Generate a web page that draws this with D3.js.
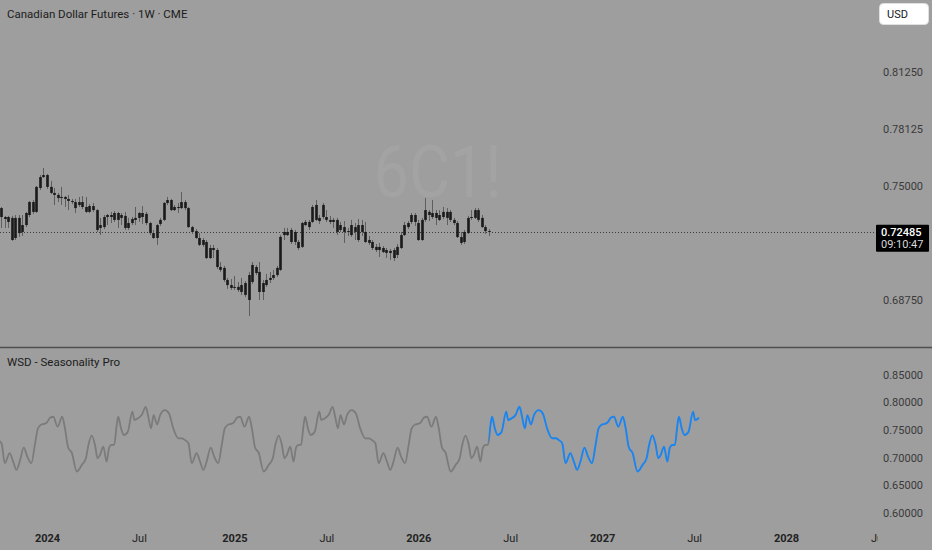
<!DOCTYPE html>
<html><head><meta charset="utf-8">
<script src="https://cdn.jsdelivr.net/npm/d3@7"></script>
<style>html,body{margin:0;padding:0;background:#9e9e9e;overflow:hidden}svg{display:block}</style>
</head><body><svg id="c" width="932" height="550"></svg>
<script>
// ---- data ----
const chartTitle = "Canadian Dollar Futures \u00b7 1W \u00b7 CME";
const indicatorTitle = "WSD - Seasonality Pro";
const symbolWatermark = "6C1!";
const currency = "USD";
const startWeek = "2023-10-02";
const opens = [0.7379,0.7330,0.7330,0.7325,0.7215,0.7325,0.7248,0.7286,0.7341,0.7412,
0.7358,0.7489,0.7549,0.7560,0.7495,0.7462,0.7451,0.7434,0.7440,0.7429,
0.7418,0.7412,0.7396,0.7412,0.7385,0.7358,0.7390,0.7368,0.7270,0.7275,
0.7330,0.7341,0.7314,0.7352,0.7325,0.7336,0.7270,0.7297,0.7314,0.7325,
0.7352,0.7347,0.7297,0.7242,0.7215,0.7292,0.7314,0.7407,0.7423,0.7368,
0.7385,0.7379,0.7412,0.7379,0.7275,0.7253,0.7215,0.7177,0.7193,0.7105,
0.7160,0.7149,0.7056,0.7051,0.6985,0.6957,0.6941,0.6947,0.6919,0.6968,
0.6875,0.6974,0.7056,0.7029,0.6919,0.6957,0.6985,0.6996,0.7012,0.7040,
0.7231,0.7248,0.7259,0.7193,0.7193,0.7166,0.7286,0.7303,0.7303,0.7396,
0.7308,0.7330,0.7330,0.7314,0.7303,0.7314,0.7259,0.7275,0.7248,0.7286,
0.7248,0.7286,0.7248,0.7248,0.7204,0.7193,0.7166,0.7149,0.7160,0.7149,
0.7133,0.7149,0.7122,0.7160,0.7231,0.7275,0.7303,0.7341,0.7297,0.7204,
0.7314,0.7358,0.7330,0.7352,0.7341,0.7330,0.7358,0.7314,0.7314,0.7297,
0.7220,0.7193,0.7242,0.7325,0.7325,0.7368,0.7325,0.7275,0.7253];
const highs = [0.7385,0.7336,0.7336,0.7336,0.7341,0.7341,0.7341,0.7358,0.7418,0.7423,
0.7500,0.7560,0.7599,0.7566,0.7528,0.7489,0.7462,0.7495,0.7445,0.7451,
0.7429,0.7429,0.7440,0.7445,0.7440,0.7401,0.7407,0.7374,0.7325,0.7341,
0.7347,0.7358,0.7363,0.7358,0.7352,0.7358,0.7325,0.7330,0.7385,0.7358,
0.7390,0.7358,0.7303,0.7259,0.7292,0.7325,0.7412,0.7440,0.7429,0.7396,
0.7407,0.7467,0.7423,0.7385,0.7281,0.7264,0.7242,0.7215,0.7204,0.7177,
0.7177,0.7160,0.7083,0.7062,0.6996,0.6990,0.7007,0.6974,0.6996,0.6979,
0.7029,0.7083,0.7067,0.7083,0.6985,0.7018,0.7029,0.7040,0.7062,0.7231,
0.7270,0.7270,0.7270,0.7259,0.7204,0.7303,0.7314,0.7314,0.7396,0.7423,
0.7341,0.7407,0.7368,0.7336,0.7325,0.7325,0.7303,0.7308,0.7270,0.7314,
0.7297,0.7319,0.7314,0.7303,0.7226,0.7204,0.7182,0.7188,0.7171,0.7160,
0.7155,0.7160,0.7182,0.7248,0.7303,0.7308,0.7352,0.7352,0.7314,0.7325,
0.7434,0.7368,0.7423,0.7368,0.7368,0.7385,0.7379,0.7368,0.7325,0.7308,
0.7248,0.7259,0.7336,0.7368,0.7379,0.7379,0.7341,0.7286,0.7264];
const lows = [0.7270,0.7270,0.7270,0.7199,0.7204,0.7221,0.7226,0.7275,0.7330,0.7347,
0.7352,0.7478,0.7544,0.7484,0.7456,0.7396,0.7412,0.7396,0.7385,0.7368,
0.7401,0.7352,0.7385,0.7374,0.7352,0.7352,0.7358,0.7248,0.7231,0.7264,
0.7286,0.7297,0.7303,0.7270,0.7286,0.7259,0.7259,0.7286,0.7286,0.7303,
0.7292,0.7286,0.7231,0.7210,0.7177,0.7281,0.7308,0.7396,0.7363,0.7363,
0.7352,0.7374,0.7368,0.7270,0.7237,0.7210,0.7171,0.7166,0.7100,0.7100,
0.7105,0.7045,0.7029,0.6974,0.6936,0.6930,0.6930,0.6919,0.6903,0.6892,
0.6787,0.6963,0.7012,0.6875,0.6875,0.6947,0.6968,0.6985,0.7001,0.7034,
0.7204,0.7226,0.7182,0.7177,0.7149,0.7160,0.7281,0.7259,0.7297,0.7308,
0.7292,0.7319,0.7303,0.7292,0.7270,0.7231,0.7248,0.7188,0.7226,0.7221,
0.7204,0.7193,0.7226,0.7188,0.7177,0.7149,0.7138,0.7111,0.7133,0.7105,
0.7094,0.7089,0.7105,0.7155,0.7226,0.7264,0.7292,0.7281,0.7199,0.7199,
0.7303,0.7308,0.7319,0.7286,0.7308,0.7319,0.7286,0.7303,0.7286,0.7215,
0.7177,0.7182,0.7237,0.7314,0.7319,0.7303,0.7270,0.7237,0.7226];
const closes = [0.7330,0.7319,0.7303,0.7204,0.7325,0.7242,0.7286,0.7352,0.7412,0.7358,
0.7495,0.7549,0.7560,0.7495,0.7462,0.7451,0.7434,0.7440,0.7429,0.7418,
0.7412,0.7379,0.7412,0.7385,0.7358,0.7390,0.7368,0.7259,0.7286,0.7330,
0.7341,0.7330,0.7352,0.7314,0.7341,0.7270,0.7297,0.7319,0.7325,0.7352,
0.7330,0.7297,0.7242,0.7215,0.7286,0.7314,0.7407,0.7423,0.7368,0.7385,
0.7379,0.7412,0.7379,0.7275,0.7248,0.7215,0.7177,0.7204,0.7105,0.7160,
0.7149,0.7056,0.7040,0.6985,0.6957,0.6941,0.6947,0.6930,0.6957,0.6903,
0.7012,0.7067,0.7023,0.6919,0.6968,0.6985,0.6996,0.7012,0.7051,0.7221,
0.7248,0.7231,0.7193,0.7248,0.7160,0.7297,0.7303,0.7275,0.7385,0.7314,
0.7325,0.7396,0.7314,0.7303,0.7314,0.7248,0.7286,0.7248,0.7253,0.7231,
0.7275,0.7204,0.7286,0.7193,0.7188,0.7160,0.7149,0.7166,0.7138,0.7133,
0.7144,0.7105,0.7166,0.7231,0.7286,0.7297,0.7341,0.7303,0.7204,0.7314,
0.7368,0.7341,0.7352,0.7325,0.7314,0.7358,0.7325,0.7358,0.7297,0.7220,
0.7188,0.7248,0.7325,0.7330,0.7368,0.7314,0.7275,0.7253,0.72485];
const lastPrice = 0.72485;
const countdown = "09:10:47";
const priceTicks = [0.6875, 0.75, 0.78125, 0.8125];
const seasonTicks = [0.60, 0.65, 0.70, 0.75, 0.80, 0.85];
const timeTickDates = ["2024-01-01","2024-07-01","2025-01-06","2025-07-07","2026-01-05","2026-07-06","2027-01-04","2027-07-05","2028-01-03","2028-07-03"];
const timeTickLabels = ["2024","Jul","2025","Jul","2026","Jul","2027","Jul","2028","Jul"];
// seasonal profile: day within cycle -> value
const profileDays = [0,6,12.5,21,30,35,42,49,59,69,77,82,88.5,95,100,105,111.5,118,123,128,133,138,141,146.5,152,160,169,173,179.5,187.5,195.5,200.5,206,211,218,224,233.5,241.5,250,260,267,273,280,286.5,296,303,309.5,316,324,331,339,346,352,359,364];
const profileValues = [0.764,0.772,0.774,0.756,0.774,0.756,0.718,0.709,0.675,0.687,0.699,0.723,0.740,0.723,0.699,0.705,0.720,0.693,0.718,0.723,0.723,0.759,0.774,0.753,0.741,0.747,0.783,0.768,0.771,0.777,0.792,0.774,0.753,0.777,0.760,0.777,0.786,0.780,0.753,0.735,0.735,0.732,0.726,0.690,0.708,0.693,0.678,0.693,0.718,0.702,0.690,0.723,0.753,0.760,0.761];
const cycleOrigin = "2024-01-01";
const cycleLength = 370;
const cycles = [-1, 0, 1, 2, 3];
const projectionEnd = "2027-07-15";

// ---- drawing ----
const W = 932, H = 550, plotRight = 875, mainBottom = 347;
const FONT = "Roboto, 'Liberation Sans', sans-serif";
const parse = d3.utcParse("%Y-%m-%d");
const svg = d3.select("#c");
svg.append("rect").attr("width", W).attr("height", H).attr("fill", "#9e9e9e");

const defs = svg.append("defs");
defs.append("clipPath").attr("id","clipMain").append("rect").attr("x",0).attr("y",0).attr("width",plotRight).attr("height",mainBottom);

const x = d3.scaleUtc().domain([parse("2024-01-01"), parse("2028-01-01")]).range([47, 785]);
const yP = d3.scaleLinear().domain([0.6875, 0.8125]).range([300, 72]);
const yS = d3.scaleLinear().domain([0.60, 0.85]).range([513, 374.7]);

const weeks = closes.map((_, i) => d3.utcDay.offset(parse(startWeek), 7 * i));
const lastDate = weeks[weeks.length - 1];
const xLast = x(lastDate);
const xEnd = x(parse(projectionEnd));

// watermark
svg.append("text").attr("x", 437.5).attr("y", 197).attr("text-anchor","middle")
  .attr("font-family", FONT).attr("font-size", 72).attr("fill", "#a3a3a3")
  .attr("textLength", 128).attr("lengthAdjust","spacingAndGlyphs")
  .text(symbolWatermark);

// title
svg.append("text").attr("x", 7).attr("y", 18).attr("font-family", FONT).attr("font-size", 11.5)
  .attr("fill", "#1c1c1c").text(chartTitle);

// last price dotted line
svg.append("line").attr("x1", 0).attr("x2", plotRight).attr("y1", Math.round(yP(lastPrice)) + 0.5).attr("y2", Math.round(yP(lastPrice)) + 0.5)
  .attr("stroke", "#3a3a3a").attr("stroke-width", 1).attr("stroke-dasharray", "1,2");

// candles
const cg = svg.append("g").attr("clip-path", "url(#clipMain)");
const idx = d3.range(closes.length);
cg.selectAll("line.wick").data(idx).join("line").attr("class","wick")
  .attr("x1", i => Math.round(x(weeks[i])) + 0.5).attr("x2", i => Math.round(x(weeks[i])) + 0.5)
  .attr("y1", i => yP(highs[i])).attr("y2", i => yP(lows[i]))
  .attr("stroke", "#5e5e5e").attr("stroke-width", 1);
cg.selectAll("rect.body").data(idx).join("rect").attr("class","body")
  .attr("x", i => Math.round(x(weeks[i])) + 0.5 - 1.3).attr("width", 2.6)
  .attr("y", i => yP(Math.max(opens[i], closes[i])))
  .attr("height", i => Math.max(1, Math.abs(yP(opens[i]) - yP(closes[i]))))
  .attr("fill", "#1a1a1a");

// pane separator
svg.append("line").attr("x1", 0).attr("x2", W).attr("y1", mainBottom + 0.5).attr("y2", mainBottom + 0.5)
  .attr("stroke", "#4f4f4f").attr("stroke-width", 1.5);

// price axis
const pAxis = svg.append("g").attr("transform", `translate(${plotRight},0)`)
  .call(d3.axisRight(yP).tickValues(priceTicks).tickFormat(d3.format(".5f")).tickSize(0).tickPadding(8));
pAxis.select(".domain").remove();
pAxis.selectAll("text").attr("font-family", FONT).attr("font-size", 11).attr("fill", "#3a3a3a");

// seasonal axis
const sAxis = svg.append("g").attr("transform", `translate(${plotRight},0)`)
  .call(d3.axisRight(yS).tickValues(seasonTicks).tickFormat(d3.format(".5f")).tickSize(0).tickPadding(8));
sAxis.select(".domain").remove();
sAxis.selectAll("text").attr("font-family", FONT).attr("font-size", 11).attr("fill", "#3a3a3a");

// indicator title
svg.append("text").attr("x", 7).attr("y", 366).attr("font-family", FONT).attr("font-size", 11.5)
  .attr("fill", "#1c1c1c").text(indicatorTitle);

// seasonal line
const origin = parse(cycleOrigin);
const pts = [];
cycles.forEach(k => {
  profileDays.forEach((d, j) => {
    const date = new Date(origin.getTime() + (k * cycleLength + d) * 86400000);
    pts.push({date, v: profileValues[j]});
  });
});
const sline = d3.line().x(d => x(d.date)).y(d => yS(d.v)).curve(d3.curveMonotoneX);
defs.append("clipPath").attr("id","clipHist").append("rect").attr("x",0).attr("y",mainBottom).attr("width",xLast).attr("height",180);
defs.append("clipPath").attr("id","clipProj").append("rect").attr("x",xLast).attr("y",mainBottom).attr("width",xEnd - xLast).attr("height",180);
svg.append("path").datum(pts).attr("d", sline).attr("fill","none").attr("stroke","#7b7b7b").attr("stroke-width",1.8)
  .attr("clip-path","url(#clipHist)");
svg.append("path").datum(pts).attr("d", sline).attr("fill","none").attr("stroke","#1a84f0").attr("stroke-width",1.9)
  .attr("clip-path","url(#clipProj)");

// time axis
defs.append("clipPath").attr("id","clipTime").append("rect").attr("x",0).attr("y",515).attr("width",878).attr("height",35);
const tDates = timeTickDates.map(parse);
const tOuter = svg.append("g").attr("clip-path","url(#clipTime)");
const tAxis = tOuter.append("g").attr("transform", "translate(0,530)")
  .call(d3.axisBottom(x).tickValues(tDates).tickFormat((d, i) => timeTickLabels[i]).tickSize(0).tickPadding(4));
tAxis.select(".domain").remove();
tAxis.selectAll("text").attr("font-family", FONT).attr("font-size", 11).attr("fill", "#222")
  .attr("font-weight", (d, i) => /^\d{4}$/.test(timeTickLabels[i]) ? "bold" : "normal");

// currency box
svg.append("rect").attr("x", 879.5).attr("y", 3.5).attr("width", 49).attr("height", 21).attr("rx", 4)
  .attr("fill", "#ffffff").attr("stroke", "#e0e0e0");
svg.append("text").attr("x", 887).attr("y", 18).attr("font-family", FONT).attr("font-size", 11).attr("fill", "#131722").text(currency);

// last price label
const ly = yP(lastPrice);
svg.append("rect").attr("x", 876).attr("y", ly - 7).attr("width", 53).attr("height", 27).attr("rx", 1).attr("fill", "#000");
svg.append("text").attr("x", 881).attr("y", ly + 4).attr("font-family", FONT).attr("font-size", 11).attr("font-weight", 500)
  .attr("fill", "#ffffff").text(d3.format(".5f")(lastPrice));
svg.append("text").attr("x", 881).attr("y", ly + 16).attr("font-family", FONT).attr("font-size", 11)
  .attr("fill", "#d8d8d8").text(countdown);
</script>
</body></html>
